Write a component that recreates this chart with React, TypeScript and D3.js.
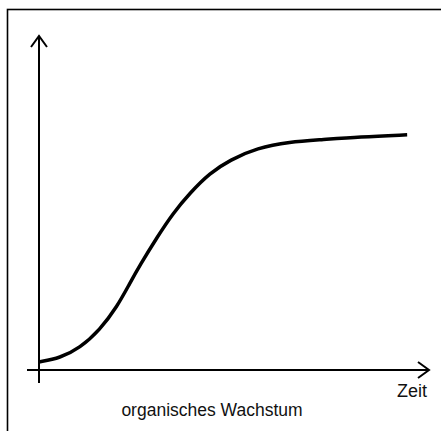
import React, { useRef, useEffect } from 'react';
import * as d3 from 'd3';

// Zeit (0..100) and Wachstum (0..100)
const zeit = [0, 5.4, 10.5, 15.6, 20, 23.3, 25.9, 30.3, 34.4, 38.7, 43.8, 49, 55.9, 64.4, 72, 82.3, 94.4];
const wachstum = [2.4, 3.6, 6.6, 12.0, 18.9, 26.0, 31.4, 39.8, 47.0, 53.0, 59.0, 62.9, 66.5, 68.3, 68.9, 69.8, 70.4];

const xLabel = 'Zeit';
const caption = 'organisches Wachstum';

const App: React.FC = () => {
    const svgRef = useRef<SVGSVGElement | null>(null);

    useEffect(() => {
        if (!svgRef.current) return;
        const svg = d3.select(svgRef.current);
        svg.selectAll('*').remove();

        const width = 441;
        const height = 431;

        const x = d3.scaleLinear().domain([0, 100]).range([39, 429]);
        const y = d3.scaleLinear().domain([0, 100]).range([370, 36]);

        // frame (right and bottom edges are cut off)
        svg.append('rect')
            .attr('x', 7.5)
            .attr('y', 9.5)
            .attr('width', width)
            .attr('height', height)
            .attr('fill', 'white')
            .attr('stroke', 'black')
            .attr('stroke-width', 1.6);

        const axisColor = 'black';

        // y axis
        svg.append('line')
            .attr('x1', x(0)).attr('x2', x(0))
            .attr('y1', y(0) + 13).attr('y2', y(100))
            .attr('stroke', axisColor)
            .attr('stroke-width', 2);
        svg.append('polyline')
            .attr('points', `${x(0) - 8},${y(100) + 11} ${x(0)},${y(100)} ${x(0) + 8},${y(100) + 11}`)
            .attr('fill', 'none')
            .attr('stroke', axisColor)
            .attr('stroke-width', 2);

        // x axis
        svg.append('line')
            .attr('x1', x(0) - 12).attr('x2', x(100))
            .attr('y1', y(0)).attr('y2', y(0))
            .attr('stroke', axisColor)
            .attr('stroke-width', 2);
        svg.append('polyline')
            .attr('points', `${x(100) - 11},${y(0) - 8} ${x(100)},${y(0)} ${x(100) - 11},${y(0) + 8}`)
            .attr('fill', 'none')
            .attr('stroke', axisColor)
            .attr('stroke-width', 2);

        // growth curve
        const pts: [number, number][] = zeit.map((t, i) => [t, wachstum[i]]);
        const line = d3.line<[number, number]>()
            .x(d => x(d[0]))
            .y(d => y(d[1]))
            .curve(d3.curveBasis);
        svg.append('path')
            .attr('d', line(pts) as string)
            .attr('fill', 'none')
            .attr('stroke', 'black')
            .attr('stroke-width', 3.5);

        svg.append('text')
            .attr('x', 427)
            .attr('y', 397)
            .attr('text-anchor', 'end')
            .style('font-family', '"Liberation Sans", Arial, sans-serif')
            .style('font-size', '18px')
            .attr('fill', '#111')
            .text(xLabel);

        svg.append('text')
            .attr('x', 212)
            .attr('y', 416)
            .attr('text-anchor', 'middle')
            .style('font-family', '"Liberation Sans", Arial, sans-serif')
            .style('font-size', '17.5px')
            .attr('fill', '#111')
            .text(caption);
    }, []);

    return (
        <svg ref={svgRef} width="441" height="431"
            style={{ position: 'fixed', left: 0, top: 0, background: 'white' }}></svg>
    );
};

export default App;
